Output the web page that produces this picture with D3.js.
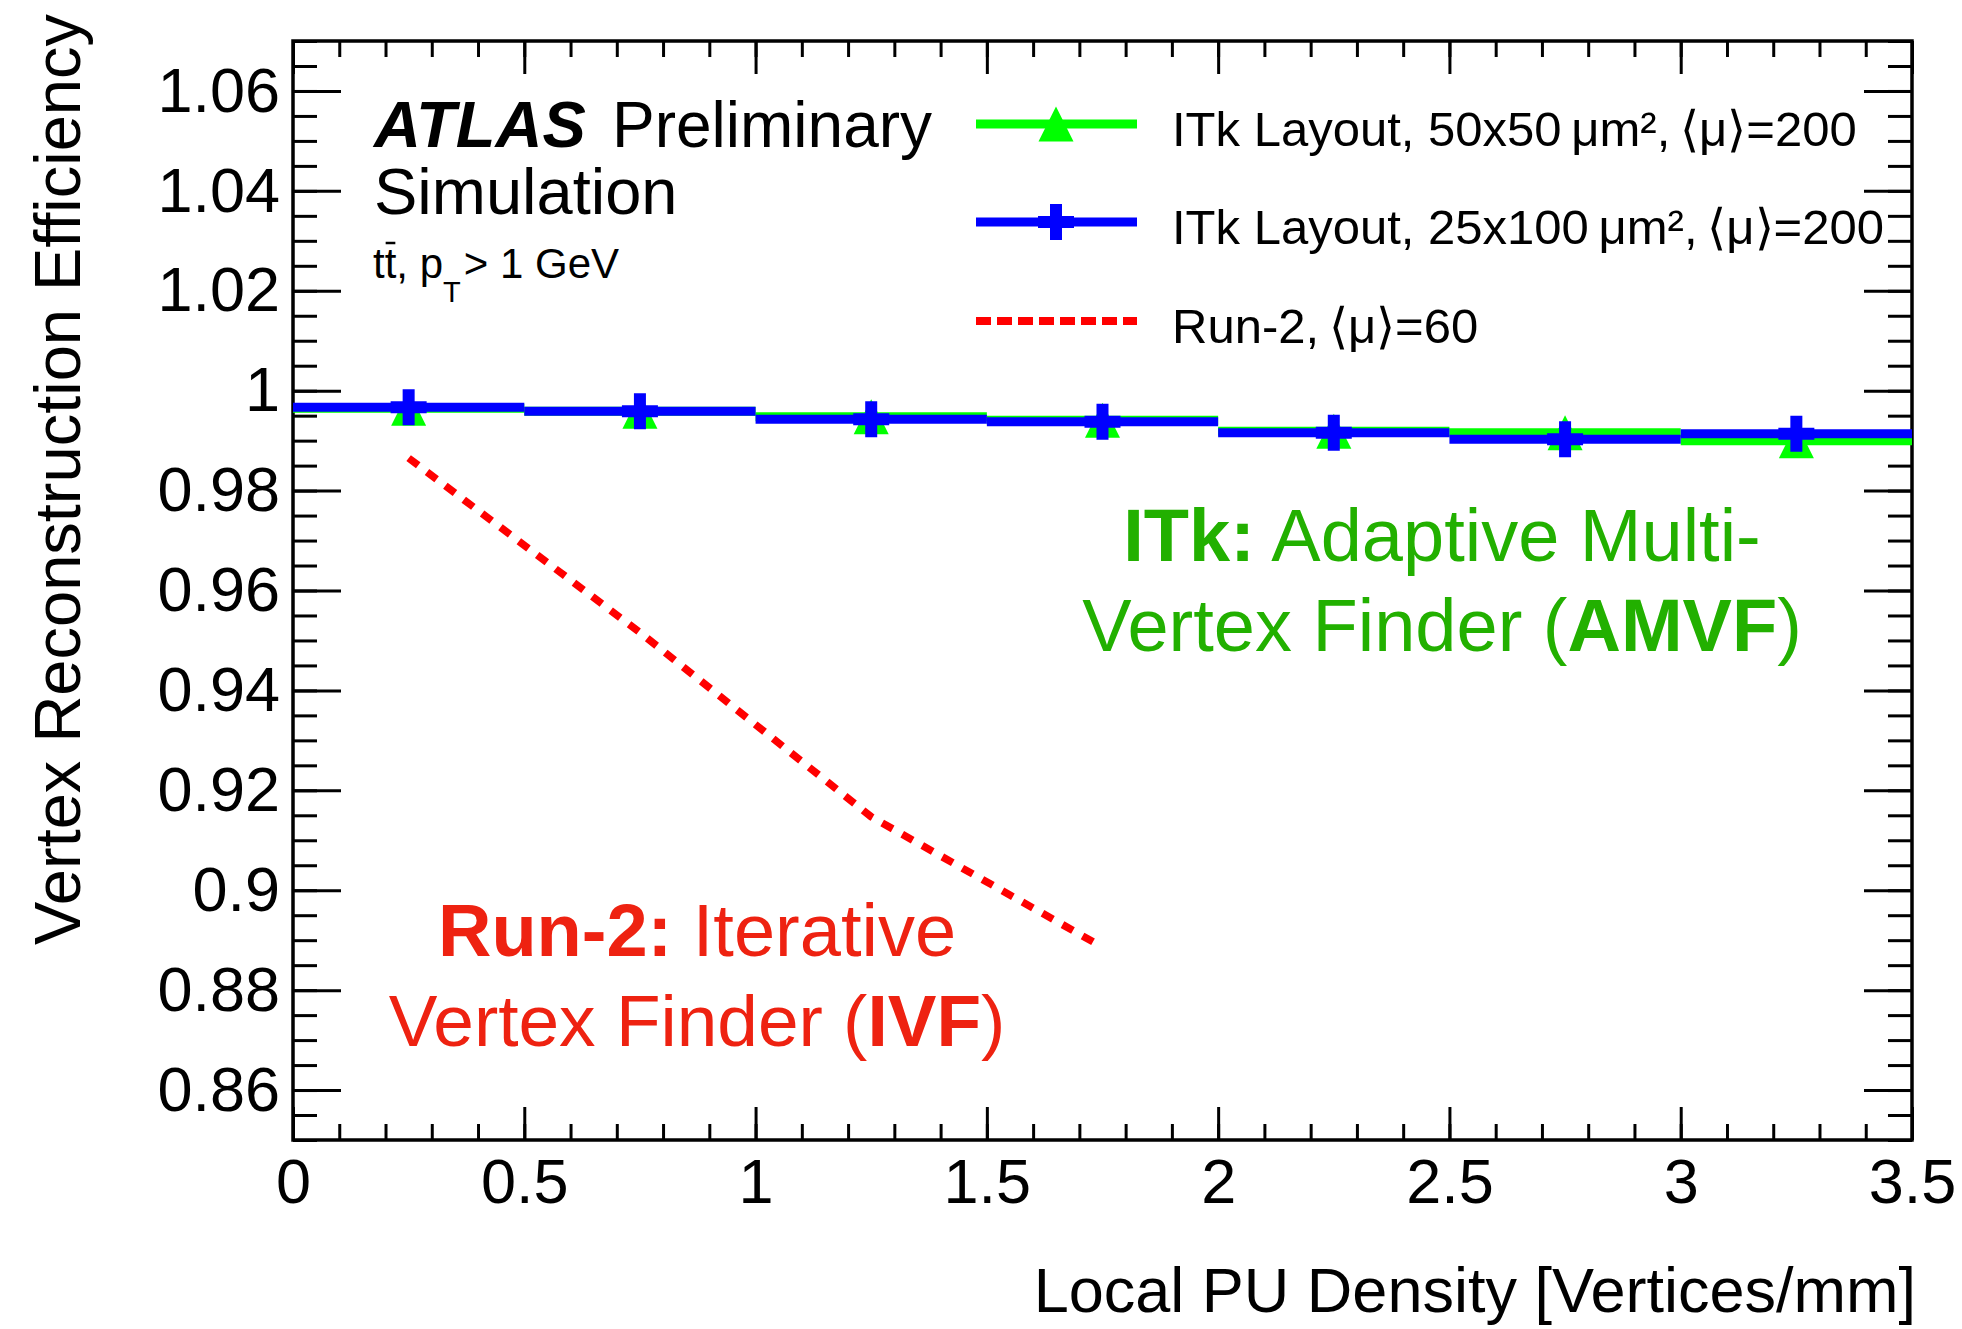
<!DOCTYPE html>
<html>
<head>
<meta charset="utf-8">
<script src="https://cdn.jsdelivr.net/npm/d3@7"></script>
<style>
  body { margin: 0; background: #fff; }
  text { font-family: "Liberation Sans", Arial, Helvetica, sans-serif; }
</style>
</head>
<body>
<svg id="chart" width="1962" height="1329"></svg>
<script>
// data
const binEdges = [0, 0.5, 1, 1.5, 2, 2.5, 3, 3.5]
const binCenters = [0.25, 0.75, 1.25, 1.75, 2.25, 2.75, 3.25]
const eff50x50 = [0.9965, 0.9959, 0.9948, 0.9941, 0.9919, 0.9916, 0.9900]
const eff25x100 = [0.9967, 0.9959, 0.9943, 0.9938, 0.9916, 0.9903, 0.9914]
const run2X = [0.25, 0.75, 1.25, 1.75]
const run2Eff = [0.9865, 0.9516, 0.9147, 0.8886]

const xTickValues = [0, 0.5, 1, 1.5, 2, 2.5, 3, 3.5]
const xTickLabels = ['0', '0.5', '1', '1.5', '2', '2.5', '3', '3.5']
const yTickValues = [0.86, 0.88, 0.9, 0.92, 0.94, 0.96, 0.98, 1, 1.02, 1.04, 1.06]
const yTickLabels = ['0.86', '0.88', '0.9', '0.92', '0.94', '0.96', '0.98', '1', '1.02', '1.04', '1.06']

const legendLabels = [
  'ITk Layout, 50x50\u2009\u03bcm\u00b2,\u2009\u27e8\u03bc\u27e9=200',
  'ITk Layout, 25x100\u2009\u03bcm\u00b2,\u2009\u27e8\u03bc\u27e9=200',
  'Run-2,\u2009\u27e8\u03bc\u27e9=60'
]

const green = '#00ff00'
const blue = '#0000ff'
const red = '#ff0000'
const greenText = '#22b000'
const redText = '#ee2211'

const svg = d3.select('#chart')
const padL = 293, padR = 1912, padT = 41, padB = 1140

const x = d3.scaleLinear().domain([0, 3.5]).range([padL, padR])
const y = d3.scaleLinear().domain([0.85, 1.07]).range([padB, padT])

// ticks (ROOT style, pointing inwards, on all four sides)
const xMinor = x.ticks(35)
const yMinor = y.ticks(44)

const axes = svg.append('g').attr('class', 'axes')

axes.append('g')
  .attr('transform', `translate(0,${padB})`)
  .call(d3.axisBottom(x).tickValues(xTickValues).tickSize(-33).tickSizeOuter(0).tickPadding(18)
    .tickFormat((d, i) => xTickLabels[i]))
axes.append('g')
  .attr('transform', `translate(0,${padB})`)
  .call(d3.axisBottom(x).tickValues(xMinor).tickSize(-16).tickSizeOuter(0).tickFormat(''))
axes.append('g')
  .attr('transform', `translate(0,${padT})`)
  .call(d3.axisTop(x).tickValues(xTickValues).tickSize(-33).tickSizeOuter(0).tickFormat(''))
axes.append('g')
  .attr('transform', `translate(0,${padT})`)
  .call(d3.axisTop(x).tickValues(xMinor).tickSize(-16).tickSizeOuter(0).tickFormat(''))

axes.append('g')
  .attr('transform', `translate(${padL},0)`)
  .call(d3.axisLeft(y).tickValues(yTickValues).tickSize(-48).tickSizeOuter(0).tickPadding(13)
    .tickFormat((d, i) => yTickLabels[i]))
axes.append('g')
  .attr('transform', `translate(${padL},0)`)
  .call(d3.axisLeft(y).tickValues(yMinor).tickSize(-24).tickSizeOuter(0).tickFormat(''))
axes.append('g')
  .attr('transform', `translate(${padR},0)`)
  .call(d3.axisRight(y).tickValues(yTickValues).tickSize(-48).tickSizeOuter(0).tickFormat(''))
axes.append('g')
  .attr('transform', `translate(${padR},0)`)
  .call(d3.axisRight(y).tickValues(yMinor).tickSize(-24).tickSizeOuter(0).tickFormat(''))

axes.selectAll('path.domain').remove()
axes.selectAll('.tick line').attr('stroke', '#000').attr('stroke-width', 3)
axes.selectAll('.tick text')
  .attr('fill', '#000')
  .style('font-size', '63px')
  .style('font-family', '"Liberation Sans", Arial, sans-serif')

// frame
svg.append('rect')
  .attr('x', padL).attr('y', padT)
  .attr('width', padR - padL).attr('height', padB - padT)
  .attr('fill', 'none').attr('stroke', '#000').attr('stroke-width', 3.5)

// marker shapes
const triangle = s => `M0,${-s / 2}L${s / 2},${s / 2}L${-s / 2},${s / 2}Z`
const cross = d3.symbol(d3.symbolCross, 720)

// histogram-like series: one horizontal segment per bin plus marker
const drawSeries = (vals, color, marker) => {
  const g = svg.append('g')
  g.selectAll('line')
    .data(vals)
    .enter()
    .append('line')
    .attr('x1', (d, i) => x(binEdges[i]))
    .attr('x2', (d, i) => x(binEdges[i + 1]))
    .attr('y1', d => y(d))
    .attr('y2', d => y(d))
    .attr('stroke', color)
    .attr('stroke-width', 9)
  g.selectAll('path')
    .data(vals)
    .enter()
    .append('path')
    .attr('transform', (d, i) => `translate(${x(binCenters[i])},${y(d)})`)
    .attr('d', marker)
    .attr('fill', color)
}

drawSeries(eff50x50, green, () => triangle(35))
drawSeries(eff25x100, blue, () => cross())

// Run-2 dotted curve
const run2Line = d3.line()
  .x((d, i) => x(run2X[i]))
  .y(d => y(d))

svg.append('path')
  .datum(run2Eff)
  .attr('d', run2Line)
  .attr('fill', 'none')
  .attr('stroke', red)
  .attr('stroke-width', 7.5)
  .attr('stroke-dasharray', '12,11')

// legend
const legendY = [124, 222, 321]
const legend = svg.append('g')
legendY.forEach((ly, i) => {
  const line = legend.append('line')
    .attr('x1', 976).attr('x2', 1137)
    .attr('y1', ly).attr('y2', ly)
    .attr('stroke-width', i === 2 ? 8 : 9)
  if (i === 0) {
    line.attr('stroke', green)
    legend.append('path').attr('transform', `translate(1056,${ly})`).attr('d', triangle(35)).attr('fill', green)
  } else if (i === 1) {
    line.attr('stroke', blue)
    legend.append('path').attr('transform', `translate(1056,${ly})`).attr('d', cross()).attr('fill', blue)
  } else {
    line.attr('stroke', red).attr('stroke-dasharray', '15,6')
  }
  legend.append('text')
    .attr('x', 1172).attr('y', ly + 22)
    .style('font-size', '49px')
    .text(legendLabels[i])
})

// ATLAS label
svg.append('text')
  .attr('x', 374).attr('y', 147)
  .style('font-size', '65px').style('font-weight', 'bold').style('font-style', 'italic')
  .text('ATLAS')
svg.append('text')
  .attr('x', 612).attr('y', 147)
  .style('font-size', '64px')
  .text('Preliminary')
svg.append('text')
  .attr('x', 374).attr('y', 214)
  .style('font-size', '65px')
  .text('Simulation')

const sel = svg.append('text')
  .attr('x', 373).attr('y', 278)
  .style('font-size', '42px')
sel.append('tspan').text('tt, p')
sel.append('tspan').attr('dy', 24).style('font-size', '29px').text('T')
sel.append('tspan').attr('dy', -24).attr('dx', 3).style('font-size', '42px').text('> 1 GeV')
const tbar = sel.node().getExtentOfChar(1)
svg.append('line')
  .attr('x1', tbar.x + 1).attr('x2', tbar.x + tbar.width - 1)
  .attr('y1', 243).attr('y2', 243)
  .attr('stroke', '#000').attr('stroke-width', 2.5)

// annotations
const itk1 = svg.append('text')
  .attr('x', 1442).attr('y', 561).attr('text-anchor', 'middle')
  .attr('fill', greenText).style('font-size', '74px')
itk1.append('tspan').style('font-weight', 'bold').text('ITk:')
itk1.append('tspan').text(' Adaptive Multi-')
const itk2 = svg.append('text')
  .attr('x', 1442).attr('y', 651).attr('text-anchor', 'middle')
  .attr('fill', greenText).style('font-size', '74px')
itk2.append('tspan').text('Vertex Finder (')
itk2.append('tspan').style('font-weight', 'bold').text('AMVF')
itk2.append('tspan').text(')')

const r1 = svg.append('text')
  .attr('x', 697).attr('y', 956).attr('text-anchor', 'middle')
  .attr('fill', redText).style('font-size', '74px')
r1.append('tspan').style('font-weight', 'bold').text('Run-2:')
r1.append('tspan').text(' Iterative')
const r2 = svg.append('text')
  .attr('x', 697).attr('y', 1046).attr('text-anchor', 'middle')
  .attr('fill', redText).style('font-size', '73px')
r2.append('tspan').text('Vertex Finder (')
r2.append('tspan').style('font-weight', 'bold').text('IVF')
r2.append('tspan').text(')')

// axis titles
svg.append('text')
  .attr('x', 1916).attr('y', 1312)
  .attr('text-anchor', 'end')
  .style('font-size', '63px')
  .text('Local PU Density [Vertices/mm]')

svg.append('text')
  .attr('transform', 'translate(80,14) rotate(-90)')
  .attr('text-anchor', 'end')
  .style('font-size', '65px')
  .text('Vertex Reconstruction Efficiency')
</script>
</body>
</html>
